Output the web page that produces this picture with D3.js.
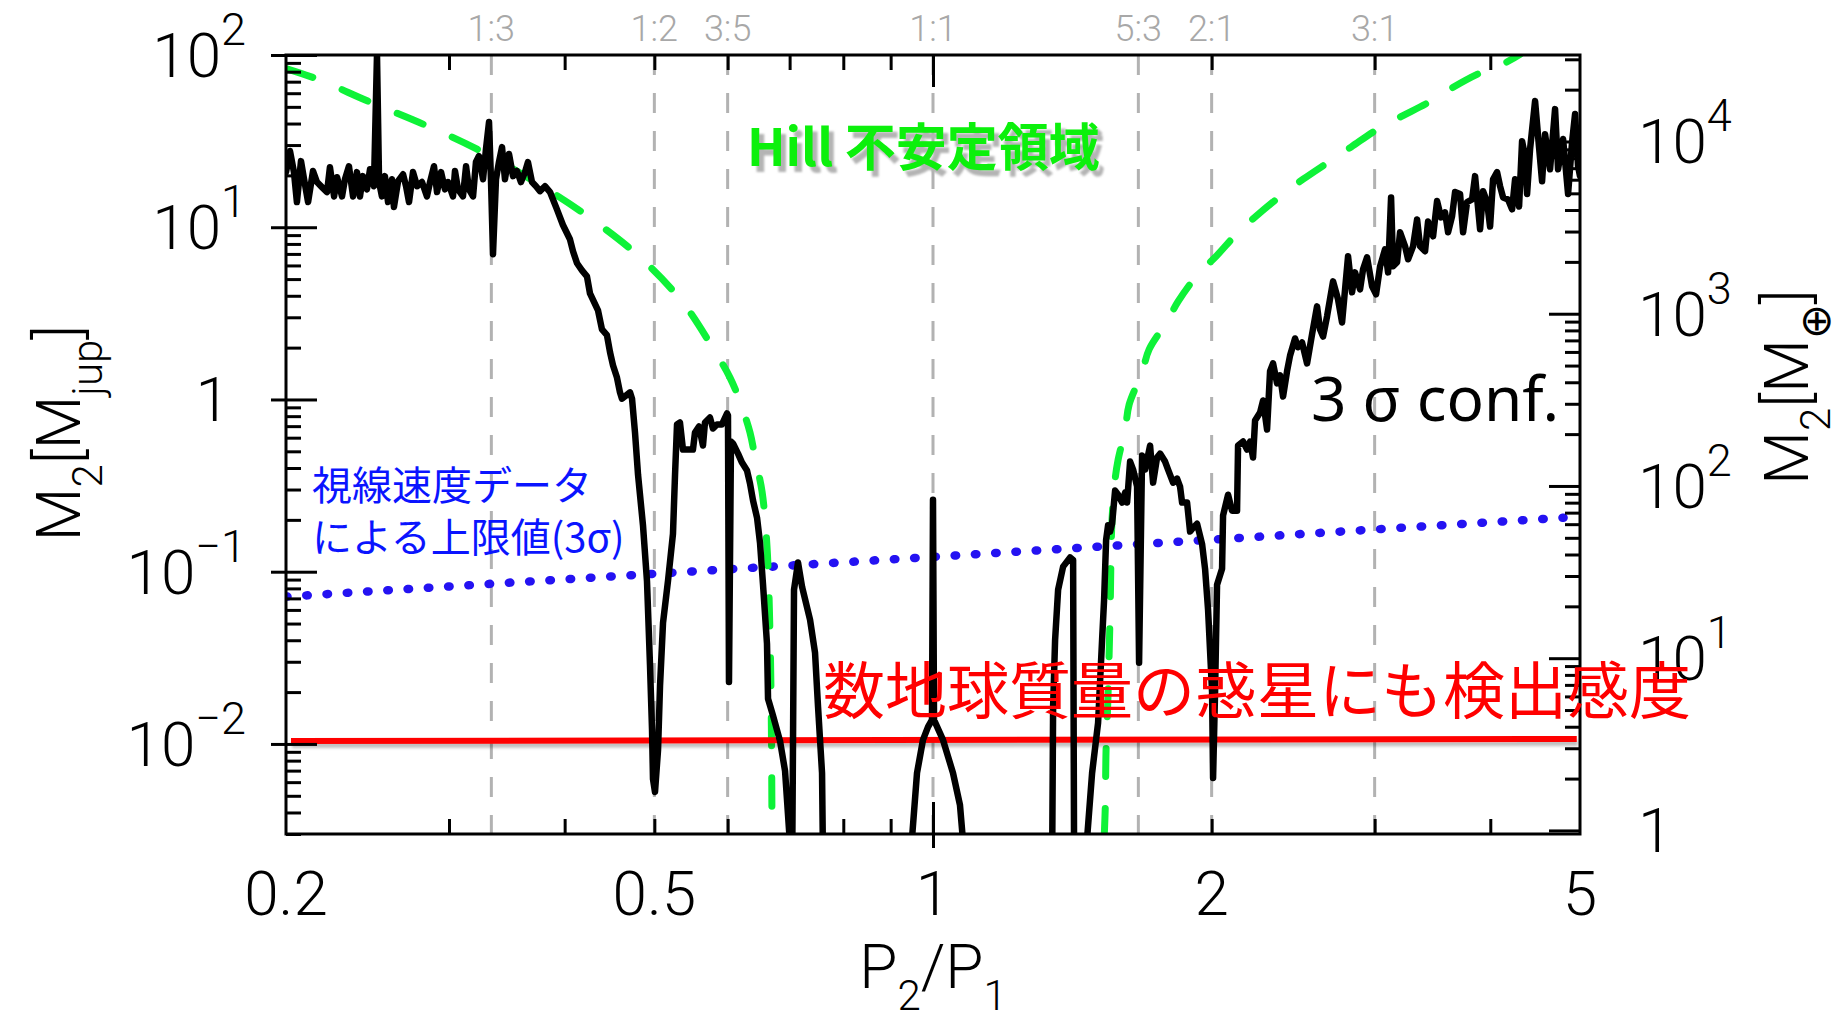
<!DOCTYPE html>
<html>
<head>
<meta charset="utf-8">
<script src="https://cdn.jsdelivr.net/npm/d3@7"></script>
<style>
  html, body { margin: 0; padding: 0; background: #fff; }
  svg { display: block; }
</style>
</head>
<body>
<svg id="chart" width="1847" height="1022"></svg>
<script>
// ---- data -------------------------------------------------------------
// Upper limit on the outer companion mass (3 sigma) vs. period ratio, [P2/P1, M2 (Mjup)].
// Values below the plotted range (0.002) mark where the limit drops off the bottom.
const massLimit3Sigma = [
  [0.2000, 20.9], [0.2020, 27.7], [0.2040, 20.9], [0.2055, 14.0], [0.2076, 24.2],
  [0.2092, 19.0], [0.2113, 14.0], [0.2139, 21.2], [0.2160, 18.3], [0.2187, 17.1],
  [0.2215, 16.0], [0.2231, 22.3], [0.2254, 15.1], [0.2271, 19.5], [0.2299, 15.1],
  [0.2316, 19.0], [0.2339, 22.6], [0.2363, 15.1], [0.2386, 20.9], [0.2404, 15.1],
  [0.2422, 19.8], [0.2446, 16.6], [0.2465, 21.7], [0.2489, 17.3], [0.2508, 100],
  [0.2521, 18.3], [0.2539, 15.1], [0.2558, 19.8], [0.2578, 14.0], [0.2603, 19.0],
  [0.2616, 13.1], [0.2643, 18.5], [0.2676, 20.3], [0.2696, 17.3], [0.2716, 14.0],
  [0.2743, 20.9], [0.2771, 17.3], [0.2805, 18.3], [0.2840, 15.1], [0.2862, 18.3],
  [0.2890, 22.6], [0.2912, 16.0], [0.2941, 20.9], [0.2970, 16.6], [0.2993, 18.3],
  [0.3030, 15.1], [0.3045, 21.2], [0.3068, 16.6], [0.3106, 15.1], [0.3130, 22.6],
  [0.3153, 16.6], [0.3185, 15.1], [0.3208, 23.9], [0.3232, 25.9], [0.3265, 19.0],
  [0.3289, 28.4], [0.3314, 40.8], [0.3330, 19.0], [0.3347, 6.97], [0.3372, 19.0],
  [0.3397, 23.9], [0.3423, 29.2], [0.3448, 19.0], [0.3483, 26.6], [0.3518, 19.8],
  [0.3553, 21.2], [0.3588, 18.3], [0.3624, 20.9], [0.3651, 23.9], [0.3688, 18.3],
  [0.3725, 17.3], [0.3762, 16.2], [0.3809, 17.3], [0.3857, 16.0], [0.3924, 12.7],
  [0.3983, 10.3], [0.4053, 8.52], [0.4084, 7.25], [0.4125, 6.18], [0.4176, 5.62],
  [0.4228, 5.19], [0.4260, 4.13], [0.4346, 3.29], [0.4389, 2.55], [0.4444, 2.36],
  [0.4478, 1.88], [0.4511, 1.58], [0.4556, 1.34], [0.4590, 1.10], [0.4613, 1.01],
  [0.4706, 1.10], [0.4730, 1.01], [0.4765, 0.643], [0.4801, 0.366], [0.4861, 0.185],
  [0.4909, 0.0887], [0.4946, 0.0288], [0.4971, 0.0122], [0.4983, 0.00626], [0.5008, 0.00526],
  [0.5046, 0.00923], [0.5071, 0.0217], [0.5109, 0.0505], [0.5173, 0.0887], [0.5237, 0.166],
  [0.5264, 0.366], [0.5290, 0.716], [0.5329, 0.735], [0.5369, 0.512], [0.5423, 0.512],
  [0.5504, 0.512], [0.5532, 0.643], [0.5587, 0.697], [0.5643, 0.540], [0.5671, 0.735],
  [0.5742, 0.786], [0.5785, 0.678], [0.5843, 0.716], [0.5916, 0.716], [0.5990, 0.829],
  [0.6005, 0.807], [0.6020, 0.0229], [0.6050, 0.570], [0.6081, 0.555], [0.6157, 0.485],
  [0.6218, 0.430], [0.6296, 0.387], [0.6343, 0.325], [0.6391, 0.259], [0.6455, 0.206],
  [0.6503, 0.147], [0.6552, 0.0840], [0.6617, 0.0381], [0.6634, 0.0183], [0.6717, 0.0146],
  [0.6835, 0.0104], [0.6921, 0.00697], [0.6990, 0.00316], [0.7045, 0.002], [0.7077, 0.0786],
  [0.7148, 0.113], [0.7220, 0.0818], [0.7365, 0.0526], [0.7457, 0.0338], [0.7513, 0.0164],
  [0.7588, 0.00678], [0.7607, 0.002], [0.9444, 0.002], [0.9610, 0.00678], [0.9754, 0.01055],
  [0.9877, 0.01256], [0.9975, 0.01379], [1.0000, 0.262], [1.0025, 0.01379], [1.0252, 0.01055],
  [1.0510, 0.00678], [1.0694, 0.00442], [1.0828, 0.002], [1.3449, 0.002], [1.3482, 0.0164],
  [1.3549, 0.0402], [1.3651, 0.0786], [1.3822, 0.107], [1.4065, 0.121], [1.4170, 0.117],
  [1.4205, 0.002], [1.4599, 0.002], [1.4855, 0.00678], [1.5078, 0.01325], [1.5229, 0.0402],
  [1.5305, 0.0687], [1.5382, 0.153], [1.5458, 0.186], [1.5535, 0.171], [1.5613, 0.190],
  [1.5730, 0.296], [1.5848, 0.280], [1.6006, 0.252], [1.6126, 0.288], [1.6206, 0.252],
  [1.6328, 0.436], [1.6450, 0.392], [1.6614, 0.312], [1.6697, 0.0296], [1.6822, 0.473],
  [1.6948, 0.392], [1.7160, 0.540], [1.7289, 0.329], [1.7461, 0.460], [1.7592, 0.485],
  [1.7812, 0.436], [1.7945, 0.392], [1.8170, 0.329], [1.8352, 0.347], [1.8489, 0.312],
  [1.8582, 0.252], [1.8814, 0.252], [1.8955, 0.171], [1.9097, 0.180], [1.9288, 0.190],
  [1.9529, 0.145], [1.9675, 0.104], [1.9823, 0.0601], [2.0021, 0.0201], [2.0071, 0.00634],
  [2.0171, 0.0201], [2.0271, 0.0840], [2.0525, 0.104], [2.0576, 0.212], [2.0834, 0.280],
  [2.1042, 0.226], [2.1305, 0.226], [2.1358, 0.540], [2.1626, 0.570], [2.1842, 0.512],
  [2.2006, 0.570], [2.2170, 0.460], [2.2281, 0.755], [2.2560, 0.840], [2.2729, 0.987],
  [2.2956, 0.669], [2.3128, 1.46], [2.3301, 1.62], [2.3534, 1.24], [2.3711, 1.38],
  [2.3888, 1.04], [2.4127, 1.46], [2.4308, 1.80], [2.4612, 2.26], [2.4796, 2.01],
  [2.5044, 2.14], [2.5358, 1.62], [2.5675, 2.39], [2.5996, 3.47], [2.6191, 2.55],
  [2.6387, 2.32], [2.6651, 3.04], [2.7052, 4.85], [2.7390, 3.81], [2.7664, 2.80],
  [2.7872, 4.36], [2.8080, 6.78], [2.8361, 4.19], [2.8574, 5.47], [2.8931, 4.36],
  [2.9148, 5.70], [2.9440, 6.69], [2.9808, 4.54], [3.0106, 4.08], [3.0408, 5.93],
  [3.0788, 7.45], [3.1019, 5.47], [3.1251, 14.9], [3.1407, 5.93], [3.1721, 6.26],
  [3.1959, 9.35], [3.2359, 7.75], [3.2601, 6.52], [3.3009, 7.75], [3.3339, 11.1],
  [3.3589, 7.75], [3.4009, 7.25], [3.4264, 10.8], [3.4692, 8.86], [3.5039, 14.2],
  [3.5390, 11.4], [3.5744, 12.2], [3.6012, 9.35], [3.6372, 11.6], [3.6644, 16.0],
  [3.7103, 15.6], [3.7381, 9.35], [3.7755, 14.0], [3.8227, 14.5], [3.8513, 19.8],
  [3.8997, 9.74], [3.9289, 16.2], [3.9682, 14.0], [3.9979, 10.1], [4.0278, 19.0],
  [4.0681, 20.9], [4.0986, 17.3], [4.1292, 14.9], [4.1809, 14.5], [4.2227, 12.7],
  [4.2543, 19.0], [4.2969, 13.2], [4.3290, 31.6], [4.3614, 25.9], [4.3832, 15.6],
  [4.4160, 28.4], [4.4713, 54.0], [4.5048, 33.8], [4.5498, 18.5], [4.5838, 34.7],
  [4.6412, 21.7], [4.6993, 48.5], [4.7345, 21.7], [4.7938, 32.5], [4.8538, 15.6],
  [4.9023, 31.2], [4.9390, 45.4], [4.9759, 22.6], [5.0000, 19.8]
];

// Hill-stability boundary, inner and outer branches [P2/P1, M2 (Mjup)]
const hillInner = [
  [0.2000, 83.5], [0.2160, 72.6], [0.2465, 53.3], [0.2812, 39.7], [0.3217, 28.4],
  [0.3829, 16.6], [0.4335, 10.6], [0.4825, 6.69], [0.5356, 3.71], [0.5786, 1.98],
  [0.6035, 1.34], [0.6187, 0.973], [0.6343, 0.643], [0.6423, 0.460], [0.6536, 0.292],
  [0.6617, 0.140], [0.6667, 0.0425], [0.6690, 0.012], [0.6700, 0.0029]
];
const hillOuter = [
  [1.531, 0.0029], [1.535, 0.0043], [1.538, 0.0092], [1.545, 0.018], [1.553, 0.0526],
  [1.561, 0.200], [1.573, 0.343], [1.585, 0.448], [1.613, 0.670], [1.629, 0.935],
  [1.682, 1.435], [1.712, 1.954], [1.790, 2.84], [1.840, 3.71], [1.933, 5.33],
  [2.022, 6.78], [2.136, 9.35], [2.234, 11.6], [2.389, 15.6], [2.511, 19.0],
  [2.685, 24.2], [2.829, 29.2], [3.025, 37.2], [3.195, 43.6], [3.435, 53.3],
  [3.619, 63.4], [3.880, 77.6], [4.129, 88.7], [4.308, 101]
];

// Radial-velocity upper limit (3 sigma)
const rvLimit = [[0.2, 0.0716], [0.3333, 0.0851], [1.0, 0.122], [2.0, 0.1535], [4.80, 0.206]];
// Earth-mass sensitivity level
const earthSensitivity = [[0.2025, 0.0104], [4.96, 0.0107]];

// Mean-motion resonances
const resonanceLabels = ["1:3", "1:2", "3:5", "1:1", "5:3", "2:1", "3:1"];
const resonanceRatios = [1 / 3, 1 / 2, 3 / 5, 1, 5 / 3, 2, 3];

// Axis ticks
const xTickValues = [0.2, 0.5, 1, 2, 5];
const xTickLabels = ["0.2", "0.5", "1", "2", "5"];
const xMinorTicks = [0.3, 0.4, 0.5, 0.6, 0.7, 0.8, 0.9, 2, 3, 4];
const xMajorTicks = [1];
const yTickExponents = [-2, -1, 0, 1, 2];
const earthTickExponents = [0, 1, 2, 3, 4];
const decadeSteps = [2, 3, 4, 5, 6, 7, 8, 9];
const EARTH_PER_JUPITER = 317.8;

// ---- layout -----------------------------------------------------------
const plot = { left: 286, right: 1580, top: 55, bottom: 834 };
const yMin = 0.003, yMax = 100;
const tickFont = "Roboto, 'Liberation Sans', 'DejaVu Sans', sans-serif";
const cjkFont = "'Noto Sans CJK JP', 'Noto Sans CJK SC', sans-serif";

const svg = d3.select("#chart");
const x = d3.scaleLog().domain([0.2, 5]).range([plot.left, plot.right]);
const y = d3.scaleLog().domain([yMin, yMax]).range([plot.bottom, plot.top]);
const yEarth = d3.scaleLog()
  .domain([yMin * EARTH_PER_JUPITER, yMax * EARTH_PER_JUPITER])
  .range([plot.bottom, plot.top]);

const defs = svg.append("defs");
defs.append("clipPath").attr("id", "plotClip")
  .append("rect")
  .attr("x", plot.left).attr("y", plot.top)
  .attr("width", plot.right - plot.left).attr("height", plot.bottom - plot.top);
defs.append("filter").attr("id", "lineShadow")
  .attr("filterUnits", "userSpaceOnUse")
  .attr("x", 0).attr("y", 0).attr("width", 1847).attr("height", 1022)
  .append("feDropShadow")
  .attr("dx", 1).attr("dy", 4).attr("stdDeviation", 1.5)
  .attr("flood-color", "#000").attr("flood-opacity", 0.25);
defs.append("filter").attr("id", "textBlur")
  .attr("filterUnits", "userSpaceOnUse")
  .attr("x", 0).attr("y", 0).attr("width", 1847).attr("height", 1022)
  .append("feGaussianBlur").attr("stdDeviation", 1.2);

// minor tick values per decade
function decadeMinors(scale) {
  const [lo, hi] = scale.domain();
  const out = [];
  for (let k = Math.floor(Math.log10(lo)); k <= Math.ceil(Math.log10(hi)); k++) {
    decadeSteps.forEach(m => {
      const v = m * Math.pow(10, k);
      if (v >= lo && v <= hi) out.push(v);
    });
  }
  return out;
}
const yMajor = yTickExponents.map(e => Math.pow(10, e));
const earthMajor = earthTickExponents.map(e => Math.pow(10, e));

// ---- resonance guides --------------------------------------------------
const resG = svg.append("g");
resG.selectAll("line").data(resonanceRatios).join("line")
  .attr("x1", d => x(d)).attr("x2", d => x(d))
  .attr("y1", plot.top).attr("y2", plot.bottom)
  .attr("stroke", "#b2b2b2").attr("stroke-width", 3)
  .attr("stroke-dasharray", "20 18");
resG.selectAll("text").data(resonanceLabels).join("text")
  .attr("x", (d, i) => x(resonanceRatios[i]))
  .attr("y", 41)
  .attr("text-anchor", "middle")
  .attr("font-family", tickFont).attr("font-weight", 300)
  .attr("font-size", 36).attr("fill", "#a8a8a8")
  .text(d => d);

// ---- data layers ------------------------------------------------------
const layers = svg.append("g").attr("clip-path", "url(#plotClip)");
const line = d3.line().x(d => x(d[0])).y(d => y(d[1]));
const smooth = d3.line().x(d => x(d[0])).y(d => y(d[1])).curve(d3.curveCatmullRom.alpha(0.5));

layers.append("path").datum(rvLimit)
  .attr("d", line).attr("fill", "none")
  .attr("stroke", "#2412f2").attr("stroke-width", 8.5)
  .attr("stroke-linecap", "round").attr("stroke-dasharray", "1.5 18.8");

[hillInner, hillOuter].forEach(branch => {
  layers.append("path").datum(branch)
    .attr("d", smooth).attr("fill", "none")
    .attr("stroke", "#0ef238").attr("stroke-width", 7)
    .attr("stroke-linecap", "round").attr("stroke-dasharray", "28 32");
});

layers.append("path").datum(earthSensitivity)
  .attr("d", line).attr("fill", "none")
  .attr("stroke", "#ff0000").attr("stroke-width", 6)
  .attr("filter", "url(#lineShadow)");

layers.append("path").datum(massLimit3Sigma)
  .attr("d", line).attr("fill", "none")
  .attr("stroke", "#000").attr("stroke-width", 6.5)
  .attr("stroke-linejoin", "round").attr("stroke-linecap", "round");

// ---- axes ---------------------------------------------------------------
function bare(g) {
  g.select(".domain").remove();
  g.selectAll("text").remove();
  g.selectAll("line").attr("stroke", "#000").attr("stroke-width", 3);
}
// left
svg.append("g").attr("transform", `translate(${plot.left},0)`)
  .call(d3.axisRight(y).tickValues(decadeMinors(y)).tickSize(15).tickFormat("")).call(bare);
svg.append("g").attr("transform", `translate(${plot.left},0)`)
  .call(d3.axisRight(y).tickValues(yMajor).tickSize(31).tickFormat("")).call(bare);
svg.append("g").attr("transform", `translate(${plot.left},0)`)
  .call(d3.axisLeft(y).tickValues(yMajor).tickSize(15).tickFormat("")).call(bare);
// right (Earth masses)
svg.append("g").attr("transform", `translate(${plot.right},0)`)
  .call(d3.axisLeft(yEarth).tickValues(decadeMinors(yEarth)).tickSize(15).tickFormat("")).call(bare);
svg.append("g").attr("transform", `translate(${plot.right},0)`)
  .call(d3.axisLeft(yEarth).tickValues(earthMajor).tickSize(31).tickFormat("")).call(bare);
// top
svg.append("g").attr("transform", `translate(0,${plot.top})`)
  .call(d3.axisBottom(x).tickValues(xMinorTicks).tickSize(15).tickFormat("")).call(bare);
svg.append("g").attr("transform", `translate(0,${plot.top})`)
  .call(d3.axisBottom(x).tickValues(xMajorTicks).tickSize(32).tickFormat("")).call(bare);
// bottom
svg.append("g").attr("transform", `translate(0,${plot.bottom})`)
  .call(d3.axisTop(x).tickValues(xMinorTicks).tickSize(15).tickFormat("")).call(bare);
svg.append("g").attr("transform", `translate(0,${plot.bottom})`)
  .call(d3.axisTop(x).tickValues(xMajorTicks).tickSize(32).tickFormat("")).call(bare);
svg.append("g").attr("transform", `translate(0,${plot.bottom})`)
  .call(d3.axisBottom(x).tickValues(xMajorTicks).tickSize(14).tickFormat("")).call(bare);

// frame
svg.append("rect")
  .attr("x", plot.left).attr("y", plot.top)
  .attr("width", plot.right - plot.left).attr("height", plot.bottom - plot.top)
  .attr("fill", "none").attr("stroke", "#000").attr("stroke-width", 3);

// ---- tick labels --------------------------------------------------------
const labels = svg.append("g")
  .attr("font-family", tickFont).attr("font-weight", 300).attr("fill", "#000");

function powerLabel(g, e, xPos, anchor, ty) {
  const t = g.append("text").attr("x", xPos).attr("y", ty + 22).attr("text-anchor", anchor);
  if (e === 0) {
    t.attr("font-size", 62).text("1");
  } else {
    t.append("tspan").attr("font-size", 62).text("10");
    t.append("tspan").attr("font-size", 45).attr("dy", -32)
      .text(e < 0 ? "\u2212" + (-e) : String(e));
  }
  return t;
}
yTickExponents.forEach(e => {
  const t = powerLabel(labels, e, 246, "end", y(Math.pow(10, e)));
  if (e === 0) t.attr("x", 230);
});
earthTickExponents.forEach(e => {
  powerLabel(labels, e, 1638, "start", yEarth(Math.pow(10, e)));
});
xTickValues.forEach((v, i) => {
  labels.append("text")
    .attr("x", x(v)).attr("y", 915)
    .attr("text-anchor", "middle").attr("font-size", 62)
    .text(xTickLabels[i]);
});

// ---- axis titles --------------------------------------------------------
// parts: [string, isSubscript]
function subscripted(t, parts) {
  let inSub = false;
  parts.forEach(([str, sub]) => {
    const dy = sub && !inSub ? 22 : (!sub && inSub ? -22 : 0);
    t.append("tspan")
      .attr("font-size", sub ? 42 : 62)
      .attr("dy", dy)
      .text(str);
    inSub = sub;
  });
}
const xTitle = labels.append("text")
  .attr("x", (plot.left + plot.right) / 2).attr("y", 988)
  .attr("text-anchor", "middle");
subscripted(xTitle, [["P", false], ["2", true], ["/P", false], ["1", true]]);

const leftTitle = labels.append("text")
  .attr("transform", "translate(80,433) rotate(-90)")
  .attr("text-anchor", "middle");
subscripted(leftTitle, [["M", false], ["2", true], ["[M", false], ["jup", true], ["]", false]]);

const rightTitle = labels.append("text")
  .attr("transform", "translate(1808,387) rotate(-90)")
  .attr("text-anchor", "middle");
subscripted(rightTitle, [["M", false], ["2", true], ["[M", false], ["\u2295", true], ["]", false]]);

// ---- annotations --------------------------------------------------------
const hill = svg.append("g").attr("font-family", cjkFont).attr("font-weight", 700).attr("font-size", 51);
hill.append("text").attr("x", 752).attr("y", 172)
  .attr("fill", "#b4b4b4").attr("filter", "url(#textBlur)")
  .text("Hill 不安定領域");
hill.append("text").attr("x", 747).attr("y", 166)
  .attr("fill", "#0cf00c")
  .text("Hill 不安定領域");

const rvNote = svg.append("g").attr("font-family", cjkFont).attr("font-size", 40).attr("fill", "#0a14ff");
rvNote.append("text").attr("x", 312).attr("y", 500).text("視線速度データ");
rvNote.append("text").attr("x", 312).attr("y", 552).text("による上限値(3σ)");

svg.append("text")
  .attr("x", 823).attr("y", 714)
  .attr("font-family", cjkFont).attr("font-size", 62).attr("fill", "#ff0000")
  .text("数地球質量の惑星にも検出感度");

svg.append("text")
  .attr("x", 1311).attr("y", 421)
  .attr("font-family", "'Noto Sans', 'Open Sans', sans-serif").attr("font-size", 62).attr("fill", "#000")
  .text("3 σ conf.");
</script>
</body>
</html>
